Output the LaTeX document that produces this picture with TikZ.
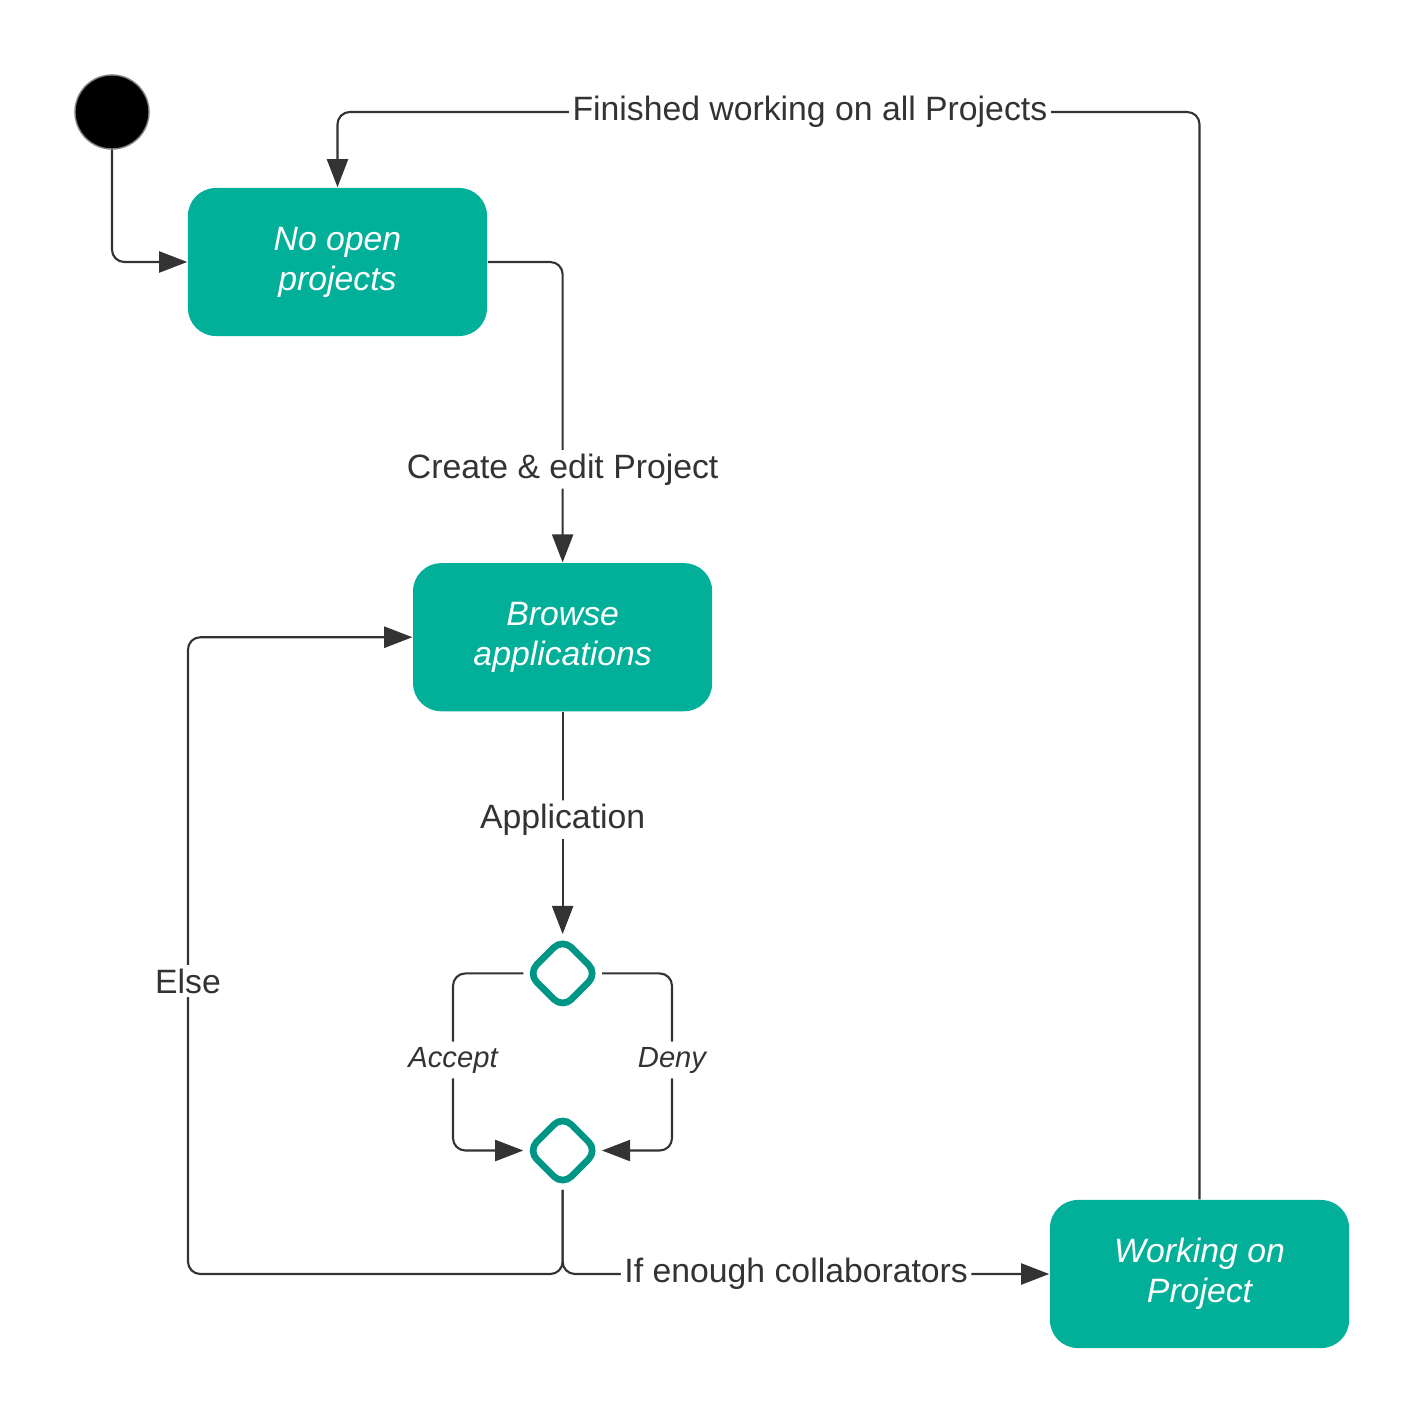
\documentclass[tikz,border=0pt]{standalone}
\usepackage{fontspec}
\setmainfont{Liberation Sans}
\usepackage{tikz}
\usetikzlibrary{shapes.geometric,positioning,arrows.meta}
\definecolor{stateteal}{RGB}{2,176,153}
\definecolor{choiceteal}{RGB}{0,150,134}
\definecolor{linegray}{RGB}{51,51,51}

\begin{document}
\begin{tikzpicture}[x=0.01cm,y=-0.01cm,on grid,
  state/.style={rectangle,rounded corners=0.28cm,fill=stateteal,text=white,
    minimum width=2.99cm,minimum height=1.48cm,align=center,
    font=\fontsize{9.6}{11.4}\selectfont\itshape},
  choice/.style={diamond,draw=choiceteal,line width=1.9pt,rounded corners=3.5pt,
    minimum size=0.72cm,inner sep=0pt,fill=white},
  init/.style={circle,fill=black,draw=gray,line width=0.4pt,minimum size=0.74cm},
  flow/.style={->,>={Triangle[length=8pt,width=6pt]},draw=linegray,
    line width=0.6pt,rounded corners=3.5pt},
  lbl/.style={fill=white,text=linegray,inner sep=1pt,
    font=\fontsize{9.6}{11.4}\selectfont},
  guard/.style={fill=white,text=linegray,inner sep=1.5pt,
    font=\fontsize{8.3}{10}\selectfont\itshape}]

   \useasboundingbox (0,0) rectangle (1425,1425);

   \node[init] (q_i) at (112,112) {};
   \node[state] (q_0) at (337.5,262) {No open\\projects};
   \node[state] (q_1) [below right=3.75cm and 2.25cm of q_0] {Browse\\applications};
   \node[choice] (d_1) [below=3.36cm of q_1] {};
   \node[choice] (d_2) [below=1.77cm of d_1] {};
   \node[state] (q_2) at (1199.5,1274) {Working on\\Project};

   \coordinate (a_l) at (453,1060);
   \coordinate (a_r) at (672,1060);
   \coordinate (e_l) at (188,1274);

   \draw[flow] (q_i) |- (q_0);
   \draw[flow] (q_0) -| node[lbl,pos=0.845] {Create \& edit Project} (q_1);
   \draw[flow] (q_1) -- node[lbl,pos=0.485] {Application} (d_1);
   \draw[flow] (d_1) -| (a_l) node[guard] {Accept} |- (d_2);
   \draw[flow] (d_1) -| (a_r) node[guard] {Deny} |- (d_2);
   \draw[flow] (d_2) |- (e_l) |- node[lbl,pos=0.23] {Else} (q_1);
   \draw[flow] (d_2) |- node[lbl,pos=0.74] {If enough collaborators} (q_2);
   \draw[flow] (q_2) |- node[lbl,pos=0.726] {Finished working on all Projects}
      (q_0.north |- q_i) -- (q_0);
\end{tikzpicture}
\end{document}
